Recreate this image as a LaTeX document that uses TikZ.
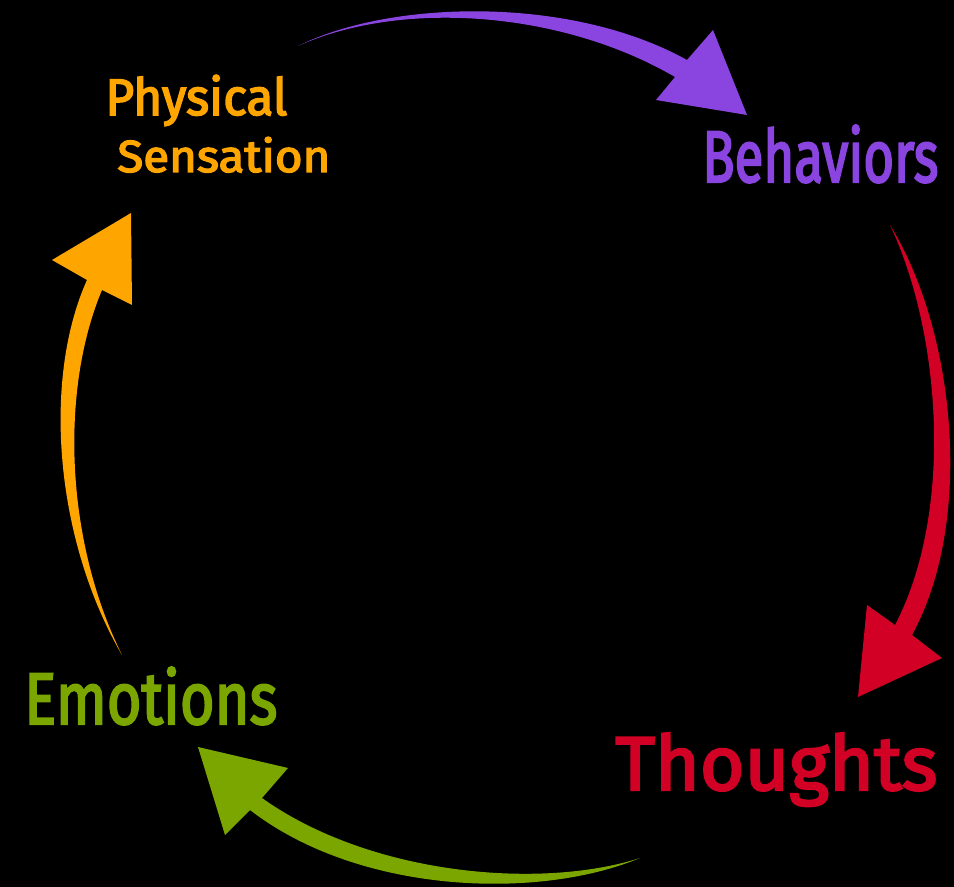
\documentclass[tikz,border=0pt]{standalone}
\usepackage{fontspec}
\setmainfont{Fira Sans}
\newfontfamily\cyclefont[FakeBold=3]{Fira Sans}
\usepackage{tikz}

\definecolor{cyclepurple}{HTML}{8A44E0}
\definecolor{cyclered}{HTML}{D10024}
\definecolor{cycleorange}{HTML}{FFA500}
\definecolor{cyclegreen}{HTML}{7BA600}

\tikzset{cyclelabel/.style={anchor=base west, inner sep=0pt, font=\cyclefont\fontsize{30}{28.5}\selectfont}}

\begin{document}
\begin{tikzpicture}[x=0.5pt,y=-0.5pt]
    \useasboundingbox (0,0) rectangle (954,887);
    \fill[black] (0,0) rectangle (954,887);

    % arrow into Behaviors
    \coordinate (B0) at (298,46);
    \coordinate (B1) at (687,60);
    \coordinate (B2) at (713,30);
    \coordinate (B3) at (747,115);
    \coordinate (B4) at (656,100);
    \coordinate (B5) at (675,77);
    % arrow into Thoughts
    \coordinate (T0) at (890,225);
    \coordinate (T1) at (912,635);
    \coordinate (T2) at (942,658);
    \coordinate (T3) at (858,697);
    \coordinate (T4) at (867,605);
    \coordinate (T5) at (895,625);
    % arrow into Emotions
    \coordinate (E0) at (640,858);
    \coordinate (E1) at (250,810);
    \coordinate (E2) at (225,835);
    \coordinate (E3) at (198,747);
    \coordinate (E4) at (288,768);
    \coordinate (E5) at (262,798);
    % arrow into Physical Sensation
    \coordinate (P0) at (122,655);
    \coordinate (P1) at (87,280);
    \coordinate (P2) at (52,260);
    \coordinate (P3) at (131,213);
    \coordinate (P4) at (132,305);
    \coordinate (P5) at (102,290);

    \fill[cyclepurple] (B0) .. controls (390,0) and (570,-5) .. (B1) -- (B2) -- (B3) -- (B4) -- (B5)
        .. controls (560,10) and (400,0) .. (B0);
    \fill[cyclered] (T0) .. controls (955,330) and (975,520) .. (T1) -- (T2) -- (T3) -- (T4) -- (T5)
        .. controls (955,510) and (940,330) .. (T0);
    \fill[cyclegreen] (E0) .. controls (540,900) and (360,895) .. (E1) -- (E2) -- (E3) -- (E4) -- (E5)
        .. controls (370,875) and (540,890) .. (E0);
    \fill[cycleorange] (P0) .. controls (55,540) and (42,380) .. (P1) -- (P2) -- (P3) -- (P4) -- (P5)
        .. controls (60,390) and (65,540) .. (P0);

    % labels, squeezed to the width they take (base = last line)
    \node[cyclelabel, text=cycleorange, align=left] (phys) at (105,172)
        {\resizebox{91pt}{20pt}{Physical}\\\hspace{6pt}\resizebox{106.5pt}{17.5pt}{Sensation}};
    \node[cyclelabel, text=cyclepurple] (behav) at (702,182) {\resizebox{118pt}{28.5pt}{Behaviors}};
    \node[cyclelabel, text=cyclered] (thou) at (615,790) {\resizebox{161pt}{28.5pt}{Thoughts}};
    \node[cyclelabel, text=cyclegreen] (emot) at (24,724) {\resizebox{126.5pt}{28.5pt}{Emotions}};
\end{tikzpicture}
\end{document}
